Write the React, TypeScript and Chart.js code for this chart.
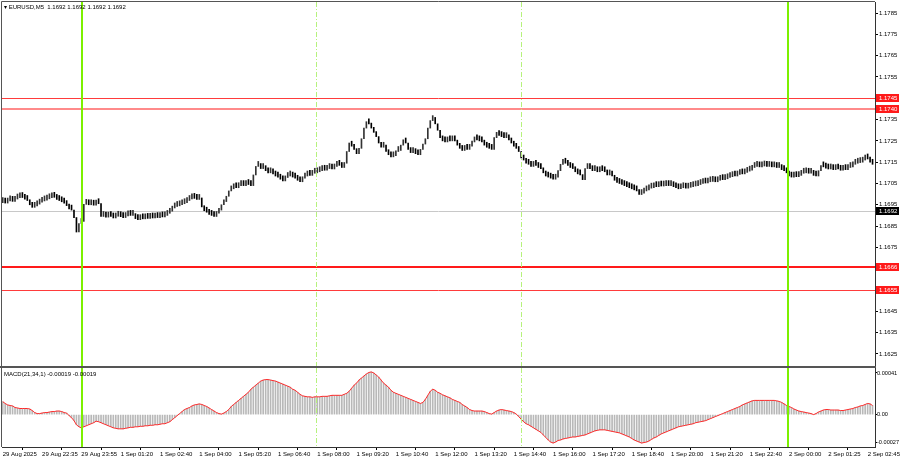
import React, { useEffect, useRef } from "react";
import { Chart, registerables } from "chart.js";
Chart.register(...registerables);

const FONT = '"Liberation Sans", Arial, sans-serif';

// time axis labels, one every 16 bars (M5)
const timeLabels = [
  "29 Aug 2025", "29 Aug 22:35", "29 Aug 23:55", "1 Sep 01:20", "1 Sep 02:40", "1 Sep 04:00",
  "1 Sep 05:20", "1 Sep 06:40", "1 Sep 08:00", "1 Sep 09:20", "1 Sep 10:40", "1 Sep 12:00",
  "1 Sep 13:20", "1 Sep 14:40", "1 Sep 16:00", "1 Sep 17:20", "1 Sep 18:40", "1 Sep 20:00",
  "1 Sep 21:20", "1 Sep 22:40", "2 Sep 00:00", "2 Sep 01:25", "2 Sep 02:45",
];
const labelStep = 16;

const firstOpen = 1.1696;
const closes = [
  1.16962, 1.16958, 1.16968, 1.16972, 1.16966, 1.16977, 1.16983, 1.16988, 1.16984, 1.16976,
  1.16970, 1.16950, 1.16938, 1.16945, 1.16953, 1.16962, 1.16968, 1.16972, 1.16978, 1.16983,
  1.16990, 1.16985, 1.16975, 1.16970, 1.16964, 1.16958, 1.16946, 1.16930, 1.16925, 1.16890,
  1.16822, 1.16862, 1.16872, 1.16952, 1.16958, 1.16950, 1.16955, 1.16948, 1.16960, 1.16955,
  1.16895, 1.16898, 1.16892, 1.16900, 1.16895, 1.16888, 1.16896, 1.16902, 1.16894, 1.16890,
  1.16898, 1.16905, 1.16900, 1.16903, 1.16885, 1.16880, 1.16888, 1.16884, 1.16890, 1.16886,
  1.16892, 1.16888, 1.16895, 1.16890, 1.16898, 1.16893, 1.16900, 1.16910, 1.16920, 1.16935,
  1.16942, 1.16945, 1.16950, 1.16955, 1.16960, 1.16970, 1.16978, 1.16985, 1.16980, 1.16975,
  1.16982, 1.16940, 1.16922, 1.16915, 1.16905, 1.16900, 1.16895, 1.16910, 1.16925, 1.16950,
  1.16965, 1.16990, 1.17015, 1.17025, 1.17035, 1.17030, 1.17040, 1.17045, 1.17040, 1.17050,
  1.17045, 1.17040, 1.17090, 1.17130, 1.17140, 1.17120, 1.17125, 1.17110, 1.17100, 1.17105,
  1.17095, 1.17085, 1.17080, 1.17070, 1.17062, 1.17078, 1.17085, 1.17085, 1.17080, 1.17075,
  1.17065, 1.17058, 1.17075, 1.17085, 1.17090, 1.17088, 1.17098, 1.17100, 1.17105, 1.17110,
  1.17115, 1.17112, 1.17120, 1.17125, 1.17118, 1.17130, 1.17140, 1.17135, 1.17125, 1.17145,
  1.17200, 1.17240, 1.17225, 1.17210, 1.17190, 1.17215, 1.17260, 1.17310, 1.17340, 1.17330,
  1.17310, 1.17290, 1.17270, 1.17240, 1.17220, 1.17230, 1.17200, 1.17185, 1.17175, 1.17180,
  1.17200, 1.17205, 1.17230, 1.17255, 1.17240, 1.17210, 1.17195, 1.17205, 1.17190, 1.17185,
  1.17210, 1.17235, 1.17260, 1.17310, 1.17345, 1.17360, 1.17330, 1.17300, 1.17265, 1.17250,
  1.17245, 1.17255, 1.17250, 1.17260, 1.17250, 1.17230, 1.17215, 1.17205, 1.17220, 1.17210,
  1.17225, 1.17245, 1.17260, 1.17255, 1.17250, 1.17245, 1.17230, 1.17220, 1.17215, 1.17210,
  1.17265, 1.17290, 1.17275, 1.17270, 1.17265, 1.17272, 1.17255, 1.17240, 1.17225, 1.17215,
  1.17200, 1.17170, 1.17160, 1.17145, 1.17140, 1.17130, 1.17138, 1.17135, 1.17125, 1.17120,
  1.17100, 1.17085, 1.17080, 1.17075, 1.17070, 1.17080, 1.17110, 1.17140, 1.17160, 1.17145,
  1.17135, 1.17125, 1.17120, 1.17105, 1.17095, 1.17090, 1.17068, 1.17120, 1.17130, 1.17120,
  1.17110, 1.17115, 1.17105, 1.17118, 1.17110, 1.17105, 1.17090, 1.17092, 1.17085, 1.17065,
  1.17055, 1.17050, 1.17045, 1.17040, 1.17035, 1.17030, 1.17025, 1.17020, 1.17015, 1.16998,
  1.17005, 1.17015, 1.17020, 1.17028, 1.17030, 1.17040, 1.17035, 1.17042, 1.17038, 1.17040,
  1.17045, 1.17040, 1.17048, 1.17035, 1.17030, 1.17025, 1.17030, 1.17035, 1.17028, 1.17032,
  1.17035, 1.17038, 1.17040, 1.17045, 1.17050, 1.17055, 1.17052, 1.17058, 1.17060, 1.17062,
  1.17058, 1.17065, 1.17070, 1.17068, 1.17072, 1.17078, 1.17082, 1.17088, 1.17085, 1.17092,
  1.17098, 1.17095, 1.17102, 1.17108, 1.17112, 1.17125, 1.17130, 1.17135, 1.17128, 1.17132,
  1.17138, 1.17130, 1.17135, 1.17128, 1.17132, 1.17125, 1.17130, 1.17115, 1.17110, 1.17100,
  1.17085, 1.17080, 1.17085, 1.17082, 1.17088, 1.17098, 1.17100, 1.17105, 1.17098, 1.17102,
  1.17088, 1.17085, 1.17110, 1.17130, 1.17128, 1.17122, 1.17118, 1.17120, 1.17115, 1.17122,
  1.17118, 1.17112, 1.17120, 1.17115, 1.17125, 1.17128, 1.17140, 1.17145, 1.17148, 1.17150,
  1.17160, 1.17180, 1.17165, 1.17150, 1.17140,
];

// MACD(21,34,1) main = signal, in units of 0.00001
const macdPts = [
  12.7, 11, 9.5, 9, 8.5, 7, 6.5, 6, 6, 6,
  6, 5.5, 4, 2, 1, 1, 1.5, 2, 2, 2.5,
  3, 3, 3.5, 3.5, 3, 2, 1.5, -1, -3, -6,
  -10, -12, -13, -12, -11, -10, -9, -8, -6.5, -7,
  -8, -9, -10, -11, -12, -13, -13.5, -14, -14, -14,
  -13.5, -13, -12.5, -12.5, -12, -12, -11.5, -11.5, -11, -11,
  -10.5, -10.5, -10, -10, -9.5, -9, -9, -8, -7, -5,
  -3, -1, 1, 3, 5, 6, 7, 8.5, 9.5, 10,
  10.5, 10, 9, 8, 6.5, 5, 3.5, 2, 1, 0.5,
  1.5, 3, 5, 8, 10, 12, 14, 16, 18, 20,
  22, 25, 27, 29, 31, 33, 34, 34.5, 34.5, 34,
  33.5, 33, 32, 31, 30, 29, 28, 27, 25, 24,
  22, 20, 18.5, 18, 17.5, 17.5, 17, 17.5, 17.5, 17.5,
  18, 18, 18, 18.5, 19, 19, 19, 19, 19, 20,
  21, 23, 26, 29, 31, 34, 36, 38, 40, 41.5,
  42, 41, 39, 37, 34, 31, 29, 27, 24, 22,
  21, 20, 19, 18, 17, 16, 15, 14, 13, 12,
  11, 12, 15, 19, 23, 25, 24, 22, 21, 19.5,
  18.5, 17.5, 16.5, 15, 14, 13, 12, 10, 8.5, 7,
  5, 4, 3.5, 3.5, 3.5, 3.5, 3, 2, 1, 0.5,
  2, 3.5, 4.5, 5, 4.5, 4, 3.5, 3, 2, 0.5,
  -2, -4.5, -7, -9, -10, -11.5, -13, -14.5, -16, -17.5,
  -20, -22.5, -25, -27, -28, -27, -25.5, -25, -24, -23.5,
  -23, -22.5, -22, -22, -21.5, -21, -20.5, -20, -19, -18,
  -17, -16, -15.5, -15, -15, -15, -15.5, -16, -16.5, -17,
  -17.5, -18, -19, -20, -21, -22, -23.5, -25, -26, -27,
  -28, -27.5, -27, -26, -24.5, -23, -22, -20.5, -19, -18,
  -17, -16, -15, -14, -13, -12, -11.5, -11, -10.5, -10,
  -9.5, -9, -8, -7.5, -7, -6.5, -6, -5, -4, -3,
  -2, -1, 0, 1, 2, 3, 4, 5, 6, 7,
  8, 9.5, 10.5, 11.5, 12.5, 13.5, 14, 14, 14, 14,
  14, 14, 14, 14, 14, 13.5, 13, 12, 10.5, 9,
  8, 7, 5.5, 4.5, 3.5, 3, 2.5, 2, 1.5, 1,
  0, 1, 2.5, 3.5, 4.5, 5, 5, 4.5, 4.5, 4.5,
  4.5, 4, 4, 4.5, 5, 5.5, 6, 7, 7.5, 8.5,
  9, 10, 11, 10.5, 9,
];

const priceTicks = [
  1.1625, 1.1635, 1.1645, 1.1655, 1.1665, 1.1675, 1.1685, 1.1695, 1.1705,
  1.1715, 1.1725, 1.1735, 1.1745, 1.1755, 1.1765, 1.1775, 1.1785,
];
const macdTicks = [0.00041, 0, -0.00027];
const redLevels = [1.1745, 1.174, 1.1666, 1.1655];
const bidLevel = 1.1692;
const dayLines = [32.3, 319.6];
const sessionLines = [127.5, 210.9];
const headerText = "EURUSD,M5  1.1692 1.1692 1.1692 1.1692";
const macdText = "MACD(21,34,1) -0.00019 -0.00019";

// styles
const redStyles = [
  { color: "#ff3b3b", width: 1 },
  { color: "#ff8a8a", width: 2 },
  { color: "#ff1a1a", width: 2 },
  { color: "#ff3b3b", width: 1 },
];

const X_MIN = -0.3;
const X_MAX = 355;

function drawVerticals(chart: any, top: number, bottom: number) {
  const { ctx, scales } = chart;
  const x = scales.x;
  ctx.save();
  sessionLines.forEach((v) => {
    const px = Math.round(x.getPixelForValue(v)) + 0.5;
    ctx.strokeStyle = "#b6f27c";
    ctx.lineWidth = 1;
    ctx.setLineDash([5, 2, 1, 2]);
    ctx.beginPath();
    ctx.moveTo(px, top);
    ctx.lineTo(px, bottom);
    ctx.stroke();
  });
  ctx.setLineDash([]);
  dayLines.forEach((v) => {
    const px = Math.round(x.getPixelForValue(v));
    ctx.strokeStyle = "#7cf000";
    ctx.lineWidth = 2;
    ctx.beginPath();
    ctx.moveTo(px, top);
    ctx.lineTo(px, bottom);
    ctx.stroke();
  });
  ctx.restore();
}

export default function App() {
  const mainRef = useRef<HTMLCanvasElement>(null);
  const macdRef = useRef<HTMLCanvasElement>(null);

  useEffect(() => {
    const opens = closes.map((c, i) => (i === 0 ? firstOpen : closes[i - 1]));
    const candleData = closes.map((c, i) => ({ x: i, y: [opens[i], c] }));
    const candleColors = closes.map((c, i) => (c >= opens[i] ? "#333333" : "#000000"));

    const mainPlugin = {
      id: "mainDecor",
      beforeDatasetsDraw(chart: any) {
        const { ctx, chartArea, scales } = chart;
        const py = Math.round(scales.y.getPixelForValue(bidLevel)) + 0.5;
        ctx.save();
        ctx.strokeStyle = "#c8c8c8";
        ctx.lineWidth = 1;
        ctx.beginPath();
        ctx.moveTo(chartArea.left, py);
        ctx.lineTo(chartArea.right, py);
        ctx.stroke();
        ctx.restore();
      },
      afterDatasetsDraw(chart: any) {
        const { ctx, chartArea, scales } = chart;
        ctx.save();
        redLevels.forEach((v, k) => {
          const st = redStyles[k];
          const raw = scales.y.getPixelForValue(v);
          const py = st.width % 2 === 1 ? Math.round(raw) + 0.5 : Math.round(raw);
          ctx.strokeStyle = st.color;
          ctx.lineWidth = st.width;
          ctx.beginPath();
          ctx.moveTo(chartArea.left, py);
          ctx.lineTo(chartArea.right, py);
          ctx.stroke();
        });
        ctx.restore();
        drawVerticals(chart, chartArea.top, chartArea.bottom);
      },
      afterDraw(chart: any) {
        const { ctx, chartArea, scales } = chart;
        ctx.save();
        // frame
        ctx.strokeStyle = "#555";
        ctx.lineWidth = 1;
        ctx.beginPath();
        ctx.moveTo(chartArea.left - 0.5, chartArea.bottom);
        ctx.lineTo(chartArea.left - 0.5, chartArea.top - 0.5);
        ctx.lineTo(chartArea.right, chartArea.top - 0.5);
        ctx.stroke();
        ctx.fillStyle = "#555";
        ctx.fillRect(0, chartArea.bottom, chartArea.right + 1, 2);
        // price labels
        ctx.font = `6px ${FONT}`;
        ctx.textBaseline = "middle";
        ctx.textAlign = "left";
        const boxes = [
          ...redLevels.map((v) => ({ v, bg: "#ff1a1a" })),
          { v: bidLevel, bg: "#000000" },
        ];
        boxes.forEach((b) => {
          const py = Math.round(scales.y.getPixelForValue(b.v));
          ctx.fillStyle = b.bg;
          ctx.fillRect(chartArea.right + 1, py - 4, 23, 8);
          ctx.fillStyle = "#ffffff";
          ctx.fillText(b.v.toFixed(4), chartArea.right + 4, py + 0.5);
        });
        ctx.restore();
      },
    };

    const main = new Chart(mainRef.current as HTMLCanvasElement, {
      type: "bar",
      data: {
        datasets: [
          {
            data: candleData as any,
            backgroundColor: candleColors,
            borderWidth: 0,
            barThickness: 1,
            minBarLength: 5,
          } as any,
        ],
      },
      options: {
        animation: false,
        responsive: false,
        maintainAspectRatio: false,
        layout: { padding: { left: 2, top: 2, bottom: 2, right: 0 } },
        plugins: { legend: { display: false }, tooltip: { enabled: false } },
        scales: {
          x: { type: "linear", min: X_MIN, max: X_MAX, offset: false, display: false },
          y: {
            position: "right",
            min: 1.16193,
            max: 1.17902,
            afterBuildTicks: (s: any) => {
              s.ticks = priceTicks.map((v) => ({ value: v }));
            },
            afterFit: (s: any) => {
              s.width = 25;
              s.paddingTop = 0;
              s.paddingBottom = 0;
            },
            ticks: {
              callback: (v: any) => Number(v).toFixed(4),
              font: { size: 6, family: FONT },
              color: "#000",
              padding: 1,
            },
            grid: { drawOnChartArea: false, tickLength: 3, color: "#000" },
            border: { display: true, color: "#333" },
          },
        },
      } as any,
      plugins: [mainPlugin],
    });

    const macdPlugin = {
      id: "macdDecor",
      afterDatasetsDraw(chart: any) {
        drawVerticals(chart, 0, chart.chartArea.bottom);
      },
      afterDraw(chart: any) {
        const { ctx, chartArea } = chart;
        ctx.save();
        ctx.strokeStyle = "#555";
        ctx.lineWidth = 1;
        ctx.beginPath();
        ctx.moveTo(chartArea.left - 0.5, 0);
        ctx.lineTo(chartArea.left - 0.5, chartArea.bottom);
        ctx.stroke();
        ctx.restore();
      },
    };

    const macd = new Chart(macdRef.current as HTMLCanvasElement, {
      type: "bar",
      data: {
        datasets: [
          {
            type: "line",
            data: macdPts.map((v, i) => ({ x: i, y: v * 1e-5 })),
            borderColor: "#ff2a2a",
            borderWidth: 1,
            pointRadius: 0,
            tension: 0,
          } as any,
          {
            type: "bar",
            data: macdPts.map((v, i) => ({ x: i, y: v * 1e-5 })),
            backgroundColor: "#b8b8b8",
            borderWidth: 0,
            barThickness: 1,
          } as any,
        ],
      },
      options: {
        animation: false,
        responsive: false,
        maintainAspectRatio: false,
        layout: { padding: { left: 2, top: 0, bottom: 0, right: 0 } },
        plugins: { legend: { display: false }, tooltip: { enabled: false } },
        scales: {
          x: {
            type: "linear",
            min: X_MIN,
            max: X_MAX,
            offset: false,
            afterBuildTicks: (s: any) => {
              s.ticks = timeLabels.map((_, k) => ({ value: k * labelStep }));
            },
            afterFit: (s: any) => {
              s.height = 13;
              s.paddingLeft = 0;
              s.paddingRight = 0;
            },
            ticks: {
              callback: (v: any) => timeLabels[Math.round(Number(v) / labelStep)],
              font: { size: 6, family: FONT },
              color: "#000",
              align: "start",
              maxRotation: 0,
              autoSkip: false,
              padding: 1,
            },
            grid: { drawOnChartArea: false, tickLength: 3, color: "#000" },
            border: { display: true, color: "#333" },
          },
          y: {
            position: "right",
            min: -0.000319,
            max: 0.000459,
            afterBuildTicks: (s: any) => {
              s.ticks = macdTicks.map((v) => ({ value: v }));
            },
            afterFit: (s: any) => {
              s.width = 25;
              s.paddingTop = 0;
              s.paddingBottom = 0;
            },
            ticks: {
              callback: (v: any) => (Number(v) === 0 ? "0.00" : Number(v).toFixed(5)),
              font: { size: 5.6, family: FONT },
              color: "#000",
              padding: 0,
            },
            grid: { drawOnChartArea: false, tickLength: 2, color: "#000" },
            border: { display: true, color: "#333" },
          },
        },
      } as any,
      plugins: [macdPlugin],
    });

    return () => {
      main.destroy();
      macd.destroy();
    };
  }, []);

  const textStyle: React.CSSProperties = {
    position: "absolute",
    font: `6px ${FONT}`,
    color: "#000",
    whiteSpace: "pre",
    lineHeight: "8px",
  };

  return (
    <div
      style={{
        position: "absolute",
        left: 0,
        top: 0,
        width: 900,
        height: 460,
        background: "#fff",
        overflow: "hidden",
      }}
    >
      <canvas
        ref={mainRef}
        width={900}
        height={368}
        style={{ position: "absolute", left: 0, top: 0, width: 900, height: 368 }}
      />
      <canvas
        ref={macdRef}
        width={900}
        height={92}
        style={{ position: "absolute", left: 0, top: 368, width: 900, height: 92 }}
      />
      <div style={{ ...textStyle, left: 4, top: 3 }}>{"▾ " + headerText}</div>
      <div style={{ ...textStyle, left: 4, top: 370 }}>{macdText}</div>
    </div>
  );
}
